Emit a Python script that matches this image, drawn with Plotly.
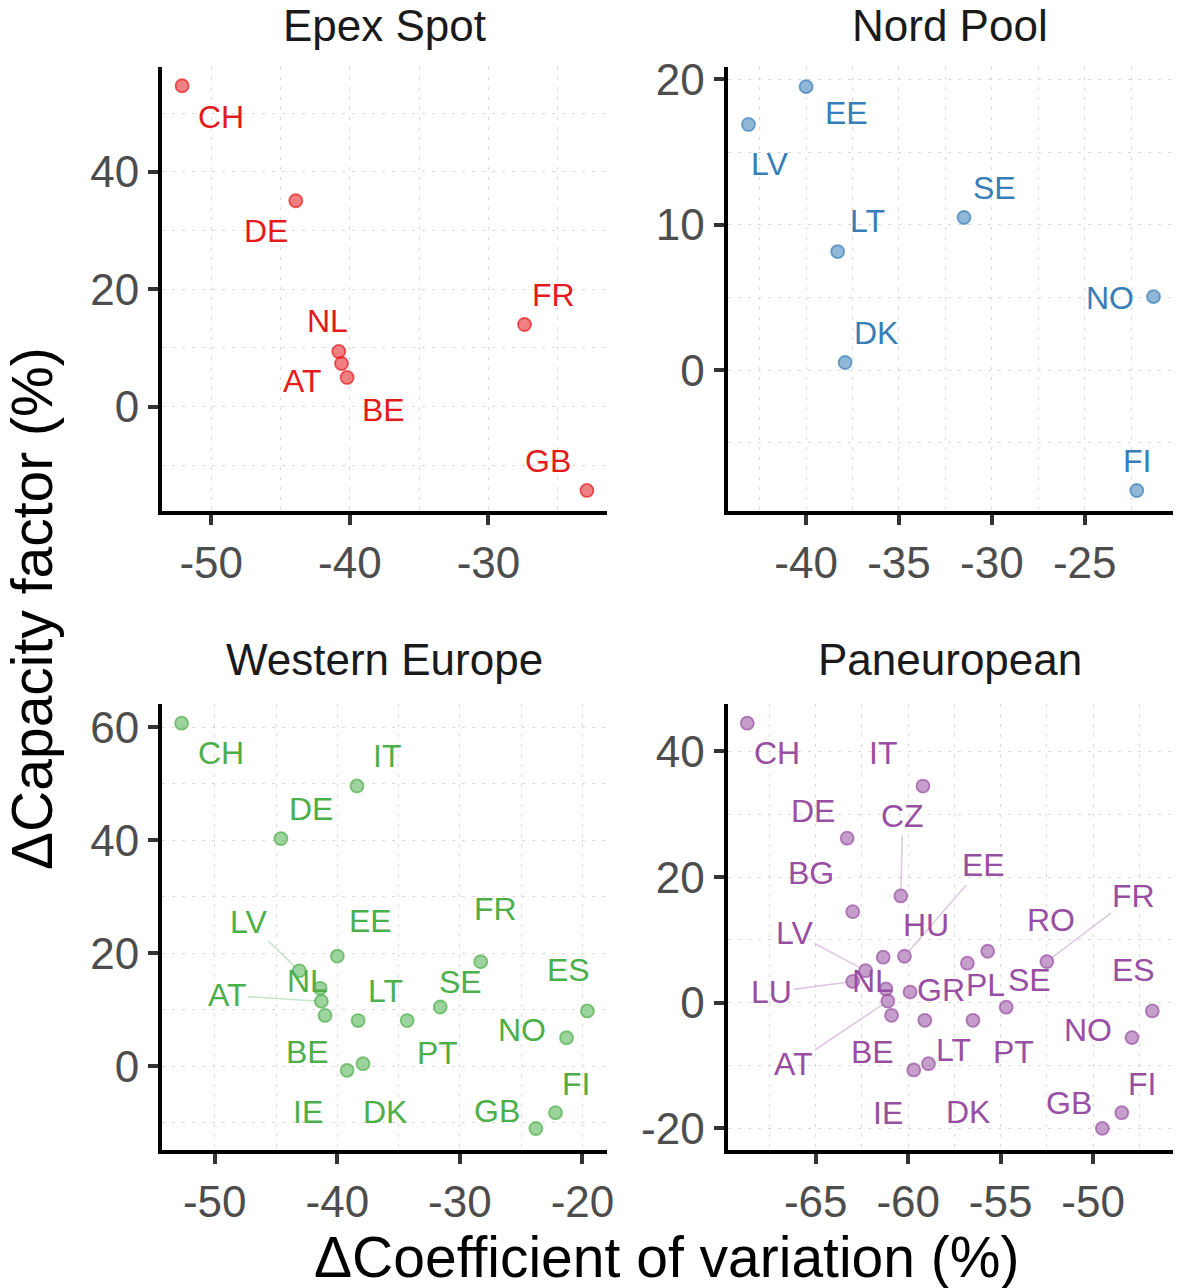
import plotly.graph_objects as go

W, H = 1178, 1288

# ---------------- data ----------------
epex_countries = ["CH", "DE", "NL", "AT", "BE", "FR", "GB"]
epex_cv = [-52.1, -43.9, -40.8, -40.6, -40.2, -27.4, -22.9]
epex_cf = [54.7, 35.1, 9.4, 7.35, 4.97, 14.0, -14.3]

nord_countries = ["EE", "LV", "SE", "LT", "NO", "DK", "FI"]
nord_cv = [-40.0, -43.1, -31.5, -38.3, -21.3, -37.9, -22.2]
nord_cf = [19.5, 16.9, 10.5, 8.16, 5.06, 0.53, -8.27]

west_countries = ["CH", "IT", "DE", "EE", "LV", "FR", "NL", "AT", "BE", "LT",
                  "PT", "SE", "ES", "NO", "IE", "DK", "FI", "GB"]
west_cv = [-52.7, -38.4, -44.6, -40.0, -43.1, -28.3, -41.4, -41.3, -41.0, -38.3,
           -34.3, -31.6, -19.6, -21.3, -39.2, -37.9, -22.2, -23.8]
west_cf = [60.7, 49.6, 40.3, 19.5, 16.9, 18.5, 13.8, 11.5, 9.0, 8.1,
           8.1, 10.5, 9.8, 5.06, -0.7, 0.47, -8.2, -11.0]

pan_countries = ["CH", "IT", "DE", "CZ", "BG", "EE", "HU", "LV", "LU", "NL",
                 "AT", "BE", "GR", "PL", "RO", "SE", "FR", "ES", "NO", "LT",
                 "PT", "IE", "DK", "FI", "GB"]
pan_cv = [-68.7, -59.2, -63.3, -60.4, -63.0, -60.2, -61.35, -62.3, -63.0, -61.2,
          -61.1, -60.9, -59.9, -56.8, -55.7, -54.7, -52.5, -46.8, -47.9, -59.1,
          -56.5, -59.7, -58.9, -48.45, -49.5]
pan_cf = [44.5, 34.5, 26.2, 17.0, 14.5, 7.4, 7.25, 5.1, 3.4, 2.2,
          0.27, -2.0, 1.7, 6.3, 8.2, -0.7, 6.55, -1.3, -5.55, -2.8,
          -2.8, -10.7, -9.7, -17.5, -20.0]

# tick values / labels per panel (hyphen minus as in the reference)
x_tickvals = [[-50, -40, -30], [-40, -35, -30, -25],
              [-50, -40, -30, -20], [-65, -60, -55, -50]]
y_tickvals = [[0, 20, 40], [0, 10, 20], [0, 20, 40, 60], [-20, 0, 20, 40]]

panel_titles = ["Epex Spot", "Nord Pool", "Western Europe", "Paneuropean"]
x_title = "ΔCoefficient of variation (%)"
y_title = "ΔCapacity factor (%)"

# ---------------- layout / style ----------------
FONT = "Liberation Sans, Arial, Helvetica, sans-serif"
colors = ["#E41A1C", "#377EB8", "#4DAF4A", "#984EA3"]
fills = ["rgba(228,26,28,0.55)", "rgba(55,126,184,0.55)",
         "rgba(77,175,74,0.55)", "rgba(152,78,163,0.55)"]
rims = ["rgba(228,26,28,0.7)", "rgba(55,126,184,0.7)",
        "rgba(77,175,74,0.7)", "rgba(152,78,163,0.7)"]
segs = ["rgba(228,26,28,0.3)", "rgba(55,126,184,0.3)",
        "rgba(77,175,74,0.3)", "rgba(152,78,163,0.3)"]

# pixel boxes of the panels: (left, right, top, bottom)
boxes = [(162, 607, 67, 511), (727.5, 1173, 67, 511),
         (162, 607, 704, 1150), (727.5, 1173, 704, 1150)]
xranges = [[-53.55, -21.45], [-44.23, -20.25], [-54.3, -18.0], [-69.77, -45.68]]
yranges = [[-17.8, 57.9], [-9.68, 20.85], [-14.8, 64.1], [-23.44, 47.56]]
xminor = [5, 2.5, 5, 2.5]
yminor = [10, 5, 10, 10]

# label offsets in px (dx right, dy down) relative to the point
offsets = [
    {"CH": (39, 31), "DE": (-30, 30), "NL": (-11, -30), "AT": (-39, 18),
     "BE": (36, 33), "FR": (29, -29), "GB": (-39, -29)},
    {"EE": (40, 26), "LV": (21, 40), "SE": (30, -30), "LT": (30, -31),
     "NO": (-43, 1), "DK": (31, -30), "FI": (0, -29)},
    {"CH": (39, 30), "IT": (30, -30), "DE": (30, -30), "EE": (33, -35),
     "LV": (-51, -49), "FR": (15, -53), "NL": (-13, -7), "AT": (-94, -6),
     "BE": (-18, 37), "LT": (27, -30), "PT": (30, 32), "SE": (20, -25),
     "ES": (-19, -41), "NO": (-45, -8), "IE": (-39, 42), "DK": (22, 48),
     "FI": (20, -29), "GB": (-39, -18)},
    {"CH": (30, 30), "IT": (-40, -33), "DE": (-34, -27), "CZ": (2, -80),
     "BG": (-42, -39), "EE": (79, -91), "HU": (43, -32), "LV": (-71, -38),
     "LU": (-81, 11), "NL": (-13, -8), "AT": (-94, 63), "BE": (-19, 37),
     "GR": (31, -2), "PL": (18, 22), "RO": (63, -31), "SE": (23, -27),
     "FR": (87, -66), "ES": (-19, -41), "NO": (-44, -8), "LT": (29, 30),
     "PT": (41, 32), "IE": (-26, 43), "DK": (39, 48), "FI": (20, -29),
     "GB": (-33, -25)},
]
segmented = [set(), set(), {"LV", "AT"}, {"CZ", "EE", "LV", "LU", "AT", "FR"}]

panels = [(epex_countries, epex_cv, epex_cf), (nord_countries, nord_cv, nord_cf),
          (west_countries, west_cv, west_cf), (pan_countries, pan_cv, pan_cf)]

fig = go.Figure()
annotations = []
layout_axes = {}

GRID = dict(showgrid=True, gridcolor="#D9D9D9", gridwidth=1.2, griddash="3px,7px")

for i, (names, xs, ys) in enumerate(panels):
    k = "" if i == 0 else str(i + 1)
    xa, ya = "x" + k, "y" + k
    l, r, t, b = boxes[i]
    fig.add_trace(go.Scatter(
        x=xs, y=ys, mode="markers", xaxis=xa, yaxis=ya, showlegend=False,
        marker=dict(size=13, color=fills[i], line=dict(width=1.8, color=rims[i])),
        hoverinfo="text", text=names))
    common = dict(showline=True, linecolor="black", linewidth=4, automargin=False,
                  ticks="outside", ticklen=10, tickwidth=4, tickcolor="#333333",
                  tickfont=dict(family=FONT, size=44, color="#4D4D4D"),
                  zeroline=False, **GRID)
    layout_axes["xaxis" + k] = dict(
        common, domain=[l / W, r / W], anchor=ya, range=xranges[i],
        tickmode="array", tickvals=x_tickvals[i],
        ticktext=[str(v) for v in x_tickvals[i]],
        minor=dict(dtick=xminor[i], tick0=0, ticks="", **GRID))
    layout_axes["yaxis" + k] = dict(
        common, domain=[1 - b / H, 1 - t / H], anchor=xa, range=yranges[i],
        tickmode="array", tickvals=y_tickvals[i],
        ticktext=[str(v) for v in y_tickvals[i]],
        minor=dict(dtick=yminor[i], tick0=0, ticks="", **GRID))
    # country labels
    for n, xv, yv in zip(names, xs, ys):
        dx, dy = offsets[i][n]
        if n in segmented[i]:
            annotations.append(dict(
                x=xv, y=yv, xref=xa, yref=ya, text=n, showarrow=True,
                arrowhead=0, arrowwidth=1.6, arrowcolor=segs[i], ax=dx, ay=dy,
                standoff=6, font=dict(family=FONT, size=32, color=colors[i])))
        else:
            annotations.append(dict(
                x=xv, y=yv, xref=xa, yref=ya, text=n, showarrow=False,
                xshift=dx, yshift=-dy,
                font=dict(family=FONT, size=32, color=colors[i])))
    # panel title
    if i < 2:
        annotations.append(dict(
            x=(l + r) / 2 / W, y=1.0, xref="paper", yref="paper",
            text=panel_titles[i], showarrow=False, xanchor="center",
            yanchor="top", borderpad=0,
            font=dict(family=FONT, size=44, color="#1A1A1A")))
    else:
        annotations.append(dict(
            x=(l + r) / 2 / W, y=1 - (t - 45) / H, xref="paper", yref="paper",
            text=panel_titles[i], showarrow=False, xanchor="center",
            yanchor="middle",
            font=dict(family=FONT, size=44, color="#1A1A1A")))

annotations.append(dict(x=667 / W, y=1 - 1257 / H, xref="paper", yref="paper",
                        text=x_title, showarrow=False, xanchor="center",
                        yanchor="middle",
                        font=dict(family=FONT, size=57, color="black")))
annotations.append(dict(x=32 / W, y=1 - 609 / H, xref="paper", yref="paper",
                        text=y_title, showarrow=False, textangle=-90,
                        xanchor="center", yanchor="middle",
                        font=dict(family=FONT, size=57, color="black")))

fig.update_layout(width=W, height=H, margin=dict(l=0, r=0, t=0, b=0, pad=0),
                  paper_bgcolor="white", plot_bgcolor="white",
                  annotations=annotations, **layout_axes)

fig.write_html("out.html")
